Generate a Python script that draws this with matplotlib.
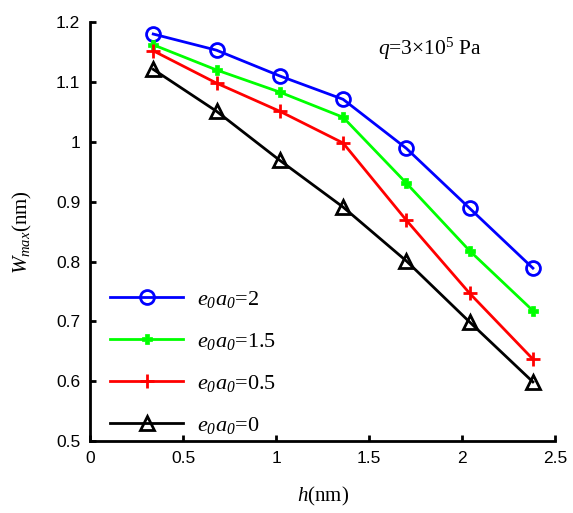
import numpy as np
import matplotlib.pyplot as plt

plt.rcParams['mathtext.fontset'] = 'custom'
plt.rcParams['mathtext.rm'] = 'Liberation Serif'
plt.rcParams['mathtext.it'] = 'Liberation Serif:italic'
# italic digits for the subscripts
plt.rcParams['mathtext.sf'] = 'Liberation Serif:italic'

# h (nm) and W_max (nm) for each e0a0
h = [0.34, 0.68, 1.02, 1.36, 1.70, 2.04, 2.38]
w_2 = [1.18, 1.153, 1.11, 1.071, 0.989, 0.889, 0.789]
w_15 = [1.162, 1.12, 1.083, 1.041, 0.931, 0.818, 0.718]
w_05 = [1.152, 1.098, 1.051, 0.998, 0.869, 0.747, 0.637]
w_0 = [1.121, 1.051, 0.969, 0.891, 0.801, 0.699, 0.599]

ea = r'$e_{\mathsf{0}}a_{\mathsf{0}}$'
labels = [ea + '=2', ea + '=1.5', ea + '=0.5', ea + '=0']

fig = plt.figure(figsize=(5.73, 5.13), dpi=100)
ax = fig.add_axes([0.157, 0.140, 0.812, 0.817])

ax.plot(h, w_2, color='#0000ff', lw=2, marker='o', ms=10, mfc='none', mew=2, label=labels[0])
ax.plot(h, w_15, color='#00ff00', lw=2, marker='P', ms=7, mew=0.5, label=labels[1])
ax.plot(h, w_05, color='#ff0000', lw=2, marker='+', ms=10, mew=2, label=labels[2])
ax.plot(h, w_0, color='black', lw=2, marker='^', ms=10, mfc='none', mew=2, label=labels[3])

ax.set_xlim(0, 2.5)
ax.set_ylim(0.5, 1.2)
ax.set_xticks([0, 0.5, 1, 1.5, 2, 2.5])
ax.set_xticklabels(['0', '0.5', '1', '1.5', '2', '2.5'])
ax.set_yticks([0.5, 0.6, 0.7, 0.8, 0.9, 1.0, 1.1, 1.2])
ax.set_yticklabels(['0.5', '0.6', '0.7', '0.8', '0.9', '1', '1.1', '1.2'])
ax.spines['top'].set_visible(False)
ax.spines['right'].set_visible(False)
ax.spines['left'].set_linewidth(2)
ax.spines['bottom'].set_linewidth(2)
ax.tick_params(direction='in', width=2, length=4, labelsize=12.5, pad=7)
for t in ax.get_xticklabels() + ax.get_yticklabels():
    t.set_family('Liberation Sans')

ax.set_xlabel('$h$(nm)', fontsize=15, family='Liberation Serif', labelpad=14)
ax.set_ylabel('$W_{max}$(nm)', fontsize=15, family='Liberation Serif', labelpad=16)
ax.text(0.62, 0.922, r'$q$=3×10$^5$ Pa', transform=ax.transAxes, fontsize=15.5,
        family='Liberation Serif')

ax.legend(loc='lower left', bbox_to_anchor=(0.0, -0.035), frameon=False,
          prop={'family': 'Liberation Serif', 'size': 16}, handlelength=3.3,
          labelspacing=0.95, handletextpad=0.6)

fig.savefig('out.png', dpi=100)
